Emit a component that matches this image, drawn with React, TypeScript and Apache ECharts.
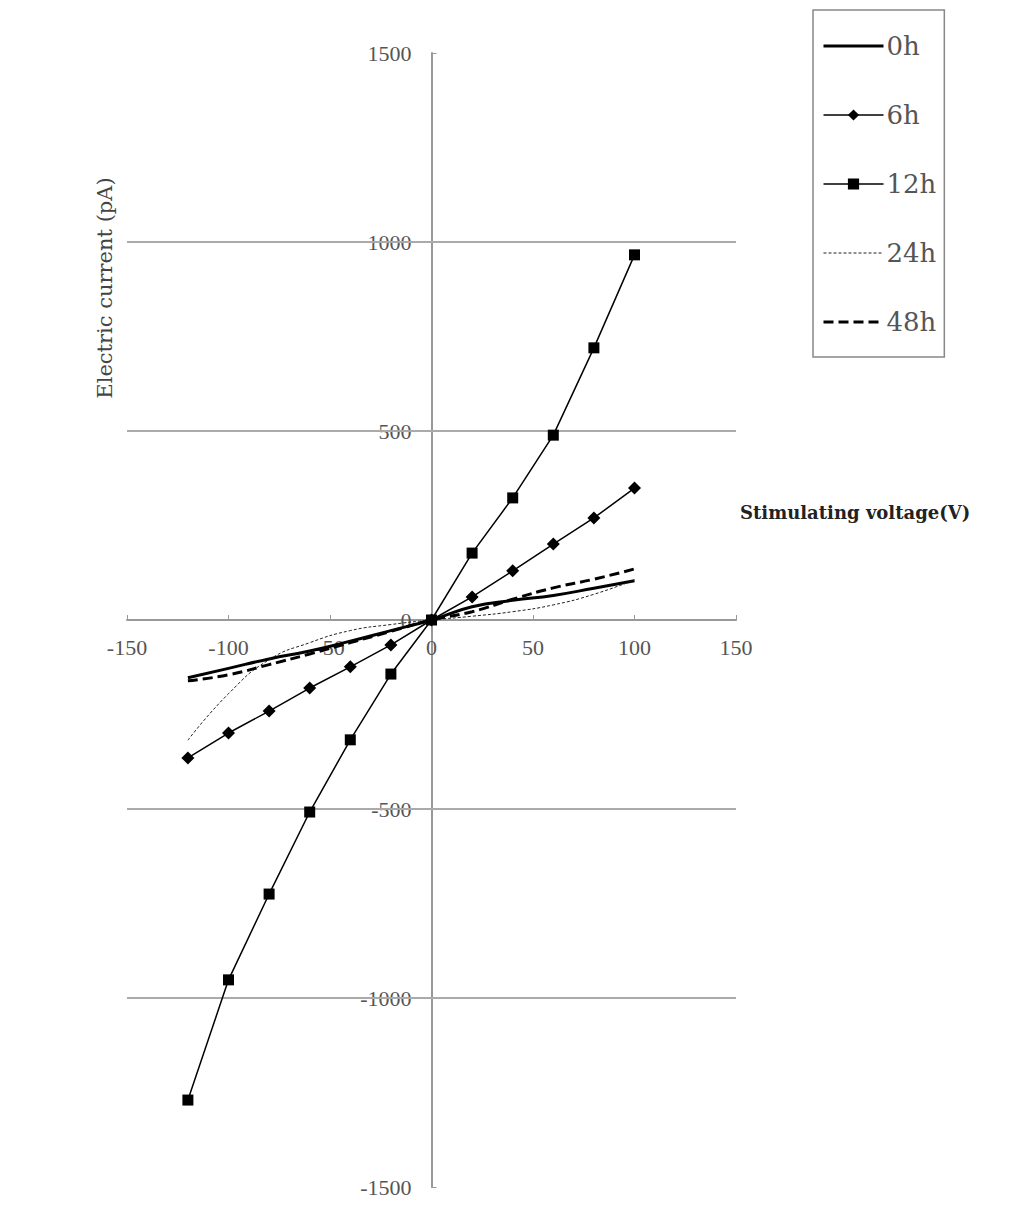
import React, { useEffect, useRef } from "react";
import * as echarts from "echarts";

const voltages = [-120, -100, -80, -60, -40, -20, 0, 20, 40, 60, 80, 100];
const h0 = [-153, -128, -103, -82, -56, -28, 0, 35, 52, 65, 84, 104];
const h6 = [-365, -299, -241, -180, -124, -66, 0, 61, 130, 201, 270, 349];
const h12 = [-1270, -952, -725, -508, -317, -143, 0, 177, 323, 489, 720, 966];
const h24 = [-318, -195, -105, -60, -28, -12, 0, 10, 22, 40, 68, 106];
const h48 = [-161, -145, -118, -90, -60, -30, 0, 22, 55, 85, 108, 135];
const gridValues = [1000, 500, -500, -1000];
const seriesNames = ["0h", "6h", "12h", "24h", "48h"];

const FONT = "'Liberation Serif', 'DejaVu Serif', serif";
const WIDE = "'DejaVu Serif', serif";

function pairs(ys: number[]) {
  return voltages.map((v, i) => [v, ys[i]]);
}

export default function App() {
  const ref = useRef<HTMLDivElement>(null);
  useEffect(() => {
    if (!ref.current) return;
    const chart = echarts.init(ref.current, undefined, { renderer: "svg" });
    const base = { type: "line" as const, z: 3 };
    const left = 127;
    const right = 297;
    const top = 53;
    const bottom = 21;
    const plotW = 1033 - left - right;
    const plotH = 1208 - top - bottom;
    const xMin = -150, xMax = 150, yMin = -1500, yMax = 1500;
    const yOffset = -((0 - xMin) / (xMax - xMin)) * plotW;
    const xOffset = -((0 - yMin) / (yMax - yMin)) * plotH;
    const legendStyles: Record<string, any> = {
      "0h": { itemStyle: { opacity: 0 }, lineStyle: { width: 3, color: "#000" } },
      "6h": { lineStyle: { width: 1.5, color: "#000" } },
      "12h": { lineStyle: { width: 1.5, color: "#000" } },
      "24h": { itemStyle: { opacity: 0 }, lineStyle: { width: 1, color: "#222", type: [3, 2] } },
      "48h": { itemStyle: { opacity: 0 }, lineStyle: { width: 3, color: "#000", type: [10, 5] } },
    };
    chart.setOption({
      animation: false,
      backgroundColor: "#ffffff",
      grid: { left, right, top, bottom },
      xAxis: {
        type: "value",
        min: xMin,
        max: xMax,
        interval: 50,
        position: "bottom",
        offset: xOffset,
        axisLine: { onZero: false, lineStyle: { color: "#999", width: 2 } },
        axisTick: { show: true, inside: true, length: 5, lineStyle: { color: "#999" } },
        axisLabel: {
          color: "#555",
          fontFamily: FONT,
          fontSize: 22,
          margin: 16,
          showMinLabel: true,
          showMaxLabel: true,
          formatter: (v: number) => String(v),
        },
        splitLine: { show: false },
      },
      yAxis: {
        type: "value",
        min: yMin,
        max: yMax,
        interval: 500,
        position: "left",
        offset: yOffset,
        axisLine: { show: true, onZero: false, lineStyle: { color: "#999", width: 2 } },
        axisTick: { show: true, inside: true, length: 5, lineStyle: { color: "#999" } },
        axisLabel: {
          color: "#555",
          fontFamily: FONT,
          fontSize: 22,
          margin: 20,
          showMinLabel: true,
          showMaxLabel: true,
          formatter: (v: number) => String(v),
        },
        splitLine: { show: false },
      },
      legend: {
        orient: "vertical",
        left: 813,
        top: 10,
        padding: [23, 8, 22, 9],
        itemGap: 43,
        itemWidth: 60,
        itemHeight: 14,
        borderColor: "#888",
        borderWidth: 1.5,
        data: seriesNames.map((n) => ({ name: n, ...legendStyles[n] })),
        textStyle: { color: "#555", fontFamily: WIDE, fontSize: 26, padding: [0, 0, 0, -2] },
      },
      graphic: [
        {
          type: "text",
          x: 105,
          y: 288,
          rotation: Math.PI / 2,
          style: {
            text: "Electric current (pA)",
            fill: "#444",
            font: `21px ${WIDE}`,
            align: "center",
            verticalAlign: "middle",
          },
        },
        {
          type: "text",
          x: 740,
          y: 512,
          style: {
            text: "Stimulating voltage(V)",
            fill: "#222",
            font: `bold 18px ${WIDE}`,
            align: "left",
            verticalAlign: "middle",
          },
        },
      ],
      series: [
        {
          ...base,
          name: "0h",
          data: pairs(h0),
          smooth: true,
          symbol: "none",
          lineStyle: { color: "#000", width: 3 },
          itemStyle: { color: "#000" },
          markLine: {
            silent: true,
            symbol: "none",
            label: { show: false },
            lineStyle: { color: "#aaa", width: 2, type: "solid" },
            z: 1,
            data: gridValues.map((v) => ({ yAxis: v })),
          },
        },
        {
          ...base,
          name: "6h",
          data: pairs(h6),
          symbol: "diamond",
          symbolSize: 13,
          lineStyle: { color: "#000", width: 1.5 },
          itemStyle: { color: "#000" },
        },
        {
          ...base,
          name: "12h",
          data: pairs(h12),
          symbol: "rect",
          symbolSize: 11,
          lineStyle: { color: "#000", width: 1.5 },
          itemStyle: { color: "#000" },
        },
        {
          ...base,
          name: "24h",
          data: pairs(h24),
          smooth: true,
          symbol: "none",
          lineStyle: { color: "#222", width: 1, type: [3, 2] },
          itemStyle: { color: "#222" },
        },
        {
          ...base,
          name: "48h",
          data: pairs(h48),
          smooth: true,
          symbol: "none",
          lineStyle: { color: "#000", width: 3, type: [10, 5] },
          itemStyle: { color: "#000" },
        },
      ],
    });
    return () => chart.dispose();
  }, []);
  return <div ref={ref} style={{ width: 1033, height: 1208, position: "absolute", left: 0, top: 0 }} />;
}
